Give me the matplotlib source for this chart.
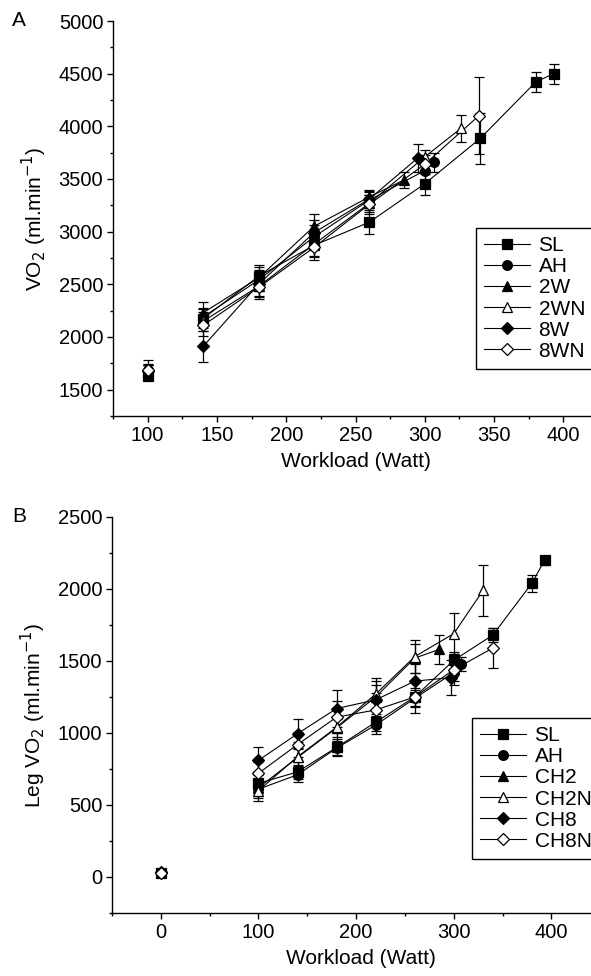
import matplotlib
matplotlib.use("Agg")
import matplotlib.pyplot as plt
from matplotlib.lines import Line2D
from matplotlib.ticker import MultipleLocator

plt.rcParams['font.family'] = ['Liberation Sans', 'DejaVu Sans']

# ---- panel A: whole body VO2 ----
a_labels = ["SL", "AH", "2W", "2WN", "8W", "8WN"]
a_x = [
    [100, 140, 180, 220, 260, 300, 340, 380, 393],
    [100, 140, 180, 220, 260, 300, 307],
    [100, 140, 180, 220, 260, 285],
    [100, 140, 180, 220, 260, 300, 326],
    [100, 140, 180, 220, 260, 295],
    [100, 140, 180, 220, 260, 300, 339],
]
a_y = [
    [1630, 2175, 2575, 2870, 3090, 3455, 3885, 4420, 4500],
    [1690, 2190, 2540, 2950, 3300, 3580, 3660],
    [1690, 2230, 2560, 3050, 3330, 3490],
    [1690, 2150, 2480, 2880, 3270, 3710, 3980],
    [1680, 1910, 2500, 2990, 3310, 3700],
    [1690, 2110, 2470, 2850, 3260, 3640, 4100],
]
a_err = [
    [40, 90, 110, 110, 115, 110, 245, 95, 95],
    [40, 90, 100, 110, 80, 100, 90],
    [40, 100, 100, 120, 70, 80],
    [50, 90, 100, 110, 80, 70, 130],
    [50, 150, 110, 120, 80, 130],
    [90, 100, 110, 120, 90, 90, 365],
]

# ---- panel B: leg VO2 ----
b_labels = ["SL", "AH", "CH2", "CH2N", "CH8", "CH8N"]
b_x = [
    [0, 100, 140, 180, 220, 260, 300, 340, 380, 393],
    [0, 100, 140, 180, 220, 260, 300, 307],
    [0, 100, 140, 180, 220, 260, 285],
    [0, 100, 140, 180, 220, 260, 300, 330],
    [0, 100, 140, 180, 220, 260, 297],
    [0, 100, 140, 180, 220, 260, 300, 340],
]
b_y = [
    [30, 650, 730, 900, 1075, 1250, 1505, 1680, 2040, 2200],
    [30, 610, 710, 895, 1055, 1240, 1420, 1480],
    [35, 620, 830, 1035, 1250, 1520, 1580],
    [35, 600, 835, 1040, 1270, 1530, 1690, 1990],
    [35, 810, 995, 1170, 1230, 1360, 1385],
    [30, 720, 920, 1110, 1160, 1250, 1440, 1590],
]
b_err = [
    [15, 60, 50, 60, 60, 60, 60, 50, 60, 30],
    [15, 60, 50, 50, 60, 60, 60, 50],
    [15, 60, 60, 60, 80, 100, 100],
    [15, 70, 100, 130, 110, 115, 140, 175],
    [15, 95, 100, 130, 130, 120, 120],
    [15, 80, 90, 110, 120, 110, 110, 140],
]

styles = [
    ("s", "black"),
    ("o", "black"),
    ("^", "black"),
    ("^", "white"),
    ("D", "black"),
    ("D", "white"),
]
msizes = {"s": 6.5, "o": 7, "^": 7.5, "D": 6}

fig = plt.figure(figsize=(5.91, 9.76), dpi=100)
W, H = 591.0, 976.0


def make_axes(l, t, r, b):
    return fig.add_axes([l / W, 1 - b / H, (r - l) / W, (b - t) / H])


def style_axes(ax):
    for s in ("top", "right"):
        ax.spines[s].set_visible(False)
    for s in ("left", "bottom"):
        ax.spines[s].set_linewidth(1.0)
    ax.tick_params(which="major", direction="out", length=4, width=1,
                   labelsize=14.5, pad=3)
    ax.tick_params(which="minor", direction="out", length=2.5, width=1)


def draw(ax, xs, ys, errs, labels):
    handles = []
    for x, y, e, lab, (m, fc) in zip(xs, ys, errs, labels, styles):
        ms = msizes[m]
        ax.plot(x[1:], y[1:], color="black", lw=0.8, zorder=2)
        ax.errorbar(x, y, yerr=e, fmt=m, ms=ms, mfc=fc, mec="black",
                    mew=0.9, ecolor="black", elinewidth=0.9, capsize=3.5,
                    capthick=0.9, zorder=3)
        handles.append(Line2D([], [], color="black", lw=0.8, marker=m,
                              ms=ms, mfc=fc, mec="black", mew=0.9,
                              label=lab))
    return handles


def add_legend(ax, handles, left, top):
    leg = ax.legend(handles=handles, loc="upper left",
                    bbox_to_anchor=(left / W, 1 - top / H),
                    bbox_transform=fig.transFigure, borderaxespad=0,
                    fontsize=15, handlelength=2.2, handletextpad=0.4,
                    labelspacing=0.1, borderpad=0.4, fancybox=False,
                    framealpha=1, edgecolor="black")
    leg.get_frame().set_linewidth(1.0)


# panel A
axA = make_axes(113, 21, 598, 416)
style_axes(axA)
hA = draw(axA, a_x, a_y, a_err, a_labels)
axA.set_xlim(75, 425)
axA.set_ylim(1250, 5000)
axA.set_xticks([100, 150, 200, 250, 300, 350, 400])
axA.xaxis.set_minor_locator(MultipleLocator(25))
axA.yaxis.set_major_locator(MultipleLocator(500))
axA.yaxis.set_minor_locator(MultipleLocator(250))
axA.set_xlabel("Workload (Watt)", fontsize=15, labelpad=5)
axA.set_ylabel("VO$_2$ (ml.min$^{-1}$)", fontsize=15, labelpad=7)
fig.text(12 / W, 1 - 21 / H, "A", fontsize=15, va="center", ha="left")
add_legend(axA, hA, 476, 228)

# panel B
axB = make_axes(112, 517, 610, 913)
style_axes(axB)
hB = draw(axB, b_x, b_y, b_err, b_labels)
axB.set_xlim(-50, 460)
axB.set_ylim(-250, 2500)
axB.set_xticks([0, 100, 200, 300, 400])
axB.xaxis.set_minor_locator(MultipleLocator(50))
axB.yaxis.set_major_locator(MultipleLocator(500))
axB.yaxis.set_minor_locator(MultipleLocator(250))
axB.set_xlabel("Workload (Watt)", fontsize=15, labelpad=5)
axB.set_ylabel("Leg VO$_2$ (ml.min$^{-1}$)", fontsize=15, labelpad=7)
fig.text(12 / W, 1 - 517 / H, "B", fontsize=15, va="center", ha="left")
add_legend(axB, hB, 472, 718)

fig.savefig("out.png", dpi=100)
